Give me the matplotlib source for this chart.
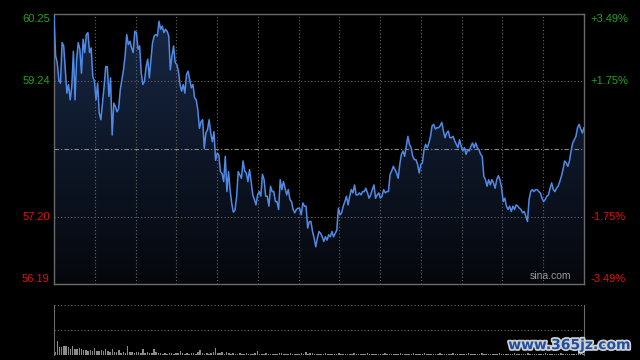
import numpy as np
import matplotlib.pyplot as plt
import matplotlib.patheffects as pe
from matplotlib.colors import LinearSegmentedColormap

# price trace (minute prices)
prices = [
    60.22, 59.62, 59.52, 59.26, 59.21, 59.82, 59.77, 59.41, 59.06, 59.19,
    58.96, 59.16, 59.69, 58.96, 59.57, 59.82, 59.72, 59.36, 59.87, 59.67,
    59.94, 59.97, 59.67, 59.74, 59.31, 59.24, 58.96, 59.21, 58.76, 58.66,
    58.91, 59.16, 59.46, 59.46, 59.01, 59.29, 58.43, 58.91, 58.86, 58.78,
    58.83, 59.11, 59.26, 59.41, 59.62, 59.94, 59.79, 59.84, 59.74, 59.67,
    59.99, 59.97, 59.72, 59.77, 59.36, 59.19, 59.24, 59.46, 59.57, 59.29,
    59.57, 59.82, 59.92, 59.94, 59.92, 60.14, 60.02, 60.07, 59.97, 60.02,
    59.99, 59.92, 59.41, 59.62, 59.77, 59.52, 59.49, 59.39, 59.19, 59.09,
    59.19, 59.06, 59.34, 59.39, 59.26, 59.14, 59.19, 58.99, 58.96, 58.81,
    58.53, 58.63, 58.66, 58.23, 58.46, 58.51, 58.66, 58.46, 58.33, 58.48,
    58.05, 58.16, 58.13, 57.88, 57.85, 57.73, 58.11, 57.58, 57.88, 57.60,
    57.40, 57.27, 57.30, 57.50, 57.88, 57.83,
    57.78, 58.04, 57.89, 57.86, 57.73, 57.91, 57.73, 57.53, 57.46, 57.38,
    57.53, 57.58, 57.51, 57.84, 57.76, 57.51, 57.51, 57.36, 57.66, 57.58,
    57.58, 57.43, 57.43, 57.31, 57.76, 57.61, 57.73, 57.63, 57.53, 57.61,
    57.46, 57.43, 57.31, 57.26, 57.31, 57.33, 57.33, 57.23, 57.41, 57.36,
    57.36, 57.03, 57.13, 57.13, 56.98, 56.88, 56.75, 56.88, 56.98, 56.95,
    56.90, 56.83, 56.90, 56.85, 56.93, 56.90, 56.98, 56.90, 56.95, 57.00,
    57.33, 57.23, 57.26, 57.36, 57.43, 57.51, 57.38, 57.51, 57.61, 57.56,
    57.68, 57.53, 57.53, 57.56, 57.53, 57.58, 57.58, 57.63, 57.56, 57.48,
    57.53, 57.61, 57.68, 57.48, 57.53, 57.56, 57.48, 57.51, 57.61, 57.56,
    57.58, 57.58, 57.84, 57.89, 57.96, 57.91, 57.86, 57.78, 57.99, 58.14,
    58.19, 58.11, 58.26, 58.41, 58.29, 58.24, 58.11,
    58.06, 58.06, 57.99, 57.86, 57.99, 58.01, 58.21, 58.29, 58.24, 58.31,
    58.41, 58.57, 58.59, 58.52, 58.54, 58.54, 58.57, 58.62, 58.49, 58.39,
    58.46, 58.49, 58.39, 58.39, 58.41, 58.34, 58.29, 58.24, 58.36, 58.26,
    58.19, 58.24, 58.14, 58.21, 58.19, 58.26, 58.31, 58.24, 58.31, 58.24,
    58.21, 58.14, 58.11, 57.81, 57.76, 57.66, 57.76, 57.68, 57.76, 57.71,
    57.63, 57.76, 57.82, 57.76, 57.63, 57.43, 57.48, 57.36, 57.31, 57.36,
    57.28, 57.36, 57.31, 57.38, 57.36, 57.33, 57.31, 57.26, 57.28, 57.21,
    57.13, 57.46, 57.58, 57.61, 57.58, 57.61, 57.61, 57.58, 57.56, 57.48,
    57.43, 57.46, 57.51, 57.53, 57.63, 57.71, 57.61, 57.58, 57.63, 57.66,
    57.73, 57.81, 57.91, 58.04, 58.01, 57.96, 58.04, 58.19, 58.31, 58.36,
    58.41, 58.54, 58.59, 58.52, 58.46, 58.54,
]

# volume bars (relative heights)
volumes = [
    3, 14, 8, 8, 9, 9, 8, 6, 9, 6, 6, 7, 6, 5, 5, 4, 5, 4, 7, 4,
    4, 5, 4, 6, 4, 3, 6, 3, 3, 5, 2, 3, 2, 9, 3, 3, 2, 3, 3, 2,
    6, 2, 3, 2, 2, 6, 3, 2, 2, 1, 2, 1, 2, 2, 1, 2, 2, 4, 2, 1,
    2, 1, 2, 2, 1, 3, 5, 2, 1, 2, 1, 2, 3, 7, 2, 2, 3, 1, 3, 2,
    1, 2, 1, 1, 2, 1, 1, 2, 1, 1, 1, 2, 4, 1, 1, 1, 2, 1, 1, 1,
    1, 1, 2, 2, 1, 1, 1, 2, 1, 1, 1, 1, 2, 1, 3, 1, 2, 2, 1, 1,
    1, 1, 1, 2, 1, 1, 1, 1, 1, 2, 1, 1, 1, 1, 1, 1, 2, 1, 1, 1,
    1, 1, 2, 1, 1, 1, 1, 1, 1, 1, 2, 1, 1, 1, 1, 1, 1, 2, 1, 1,
    1, 1, 1, 2, 1, 1, 1, 1, 2, 1, 1, 1, 1, 1, 1, 2, 1, 1, 1, 1,
    1, 2, 1, 1, 1, 1, 1, 1, 2, 1, 1, 1, 1, 1, 2, 1, 1, 1, 1, 1,
    1, 1, 2, 1, 1, 1, 1, 1, 1, 2, 1, 1, 1, 1, 1, 2, 1, 1, 1, 1,
    1, 1, 1, 2, 1, 1, 1, 1, 1, 1, 2, 1, 1, 1, 1, 1, 1, 1, 2, 1,
    1,
]

prev_close = 58.22
y_min, y_max = 56.19, 60.25
left_labels = ["60.25", "59.24", "57.20", "56.19"]
left_values = [60.25, 59.24, 57.20, 56.19]
right_labels = ["+3.49%", "+1.75%", "-1.75%", "-3.49%"]

up_col = "#1fa51f"
down_col = "#e01010"
grid_col = "#666666"
line_col = "#4f8be6"

fig = plt.figure(figsize=(6.4, 3.6), dpi=100, facecolor="black")
ax = fig.add_axes([54 / 640, 1 - 284 / 360, 530 / 640, 270 / 360])
vax = fig.add_axes([54 / 640, 1 - 354.5 / 360, 530 / 640, 50 / 360])

n = len(prices)
x = np.arange(n)
ax.set_facecolor("black")
ax.set_xlim(0, n - 1)
ax.set_ylim(y_min, y_max)

# gradient fill under the line
cmap = LinearSegmentedColormap.from_list("g", ["#05070c", "#172845"])
grad = np.linspace(0, 1, 256).reshape(-1, 1)
img = ax.imshow(grad, cmap=cmap, aspect="auto", origin="lower",
                extent=[0, n - 1, y_min, y_max], zorder=1)
poly = ax.fill_between(x, prices, y_min, color="none", zorder=1)
img.set_clip_path(poly.get_paths()[0], transform=ax.transData)

# grid
for k in range(1, 13):
    ax.axvline((n - 1) * k / 13, color=grid_col, lw=0.8, ls=(0, (1, 2)), zorder=2)
ax.axhline(59.24, color=grid_col, lw=0.8, ls=(0, (1, 2)), zorder=2)
ax.axhline(57.20, color=grid_col, lw=0.8, ls=(0, (1, 2)), zorder=2)
ax.axhline(prev_close, color="#888888", lw=0.8, ls=(0, (4, 2, 1, 2)), zorder=2)

ax.plot(x, prices, color=line_col, lw=1.1, zorder=3)

for s in ax.spines.values():
    s.set_color("#6a6a6a")
    s.set_linewidth(1.0)
ax.set_xticks([])
ax.set_yticks([])

for i, (lab, val) in enumerate(zip(left_labels, left_values)):
    col = up_col if val > prev_close else down_col
    va = "top" if i == 0 else ("bottom" if i == 3 else "center")
    ax.text(-0.008, val, lab, transform=ax.get_yaxis_transform(), ha="right",
            va=va, color=col, fontsize=8, family="Liberation Sans")
    ax.text(1.012, val, right_labels[i], transform=ax.get_yaxis_transform(), ha="left",
            va=va, color=col, fontsize=8, family="Liberation Sans")

ax.text(0.975, 0.01, "sina.com", transform=ax.transAxes, ha="right", va="bottom",
        color="#9a9a9a", fontsize=7.5, family="Liberation Sans")

# volume panel
vax.set_facecolor("black")
nv = len(volumes)
vax.bar(np.arange(nv), volumes, width=0.7, color="#8a8a8a", zorder=2)
vax.set_xlim(-0.5, nv - 0.5)
vax.set_ylim(0, 50)
vax.axhline(50, color=grid_col, lw=0.8, ls=(0, (1, 2)))
vax.axhline(25, color=grid_col, lw=0.8, ls=(0, (1, 2)))
for side in ["top", "bottom"]:
    vax.spines[side].set_visible(False)
for side in ["left", "right"]:
    vax.spines[side].set_color("#6a6a6a")
vax.set_xticks([])
vax.set_yticks([])

fig.text(0.985, 0.022, "www.365jz.com", ha="right", va="bottom", color="#1e4fa0",
         fontsize=10, fontweight="bold", family="DejaVu Sans",
         path_effects=[pe.withStroke(linewidth=2.5, foreground="#d0d0d0")])

fig.savefig("out.png", dpi=100, facecolor="black")
